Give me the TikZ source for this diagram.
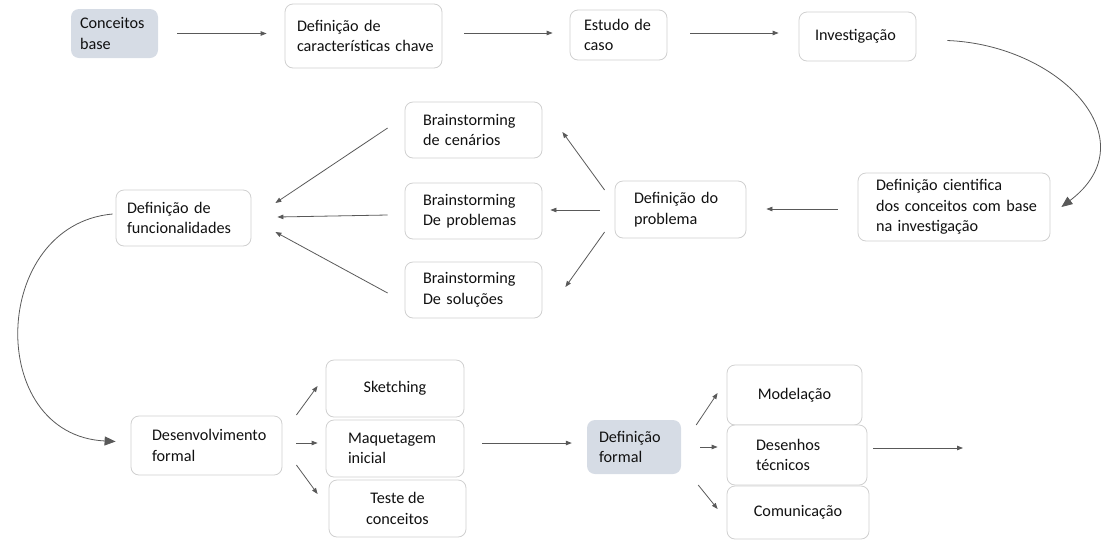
\documentclass[tikz,border=0pt]{standalone}
\usepackage{fontspec}
\setmainfont{Carlito}
\usetikzlibrary{arrows.meta,calc}
\definecolor{linec}{HTML}{595959}
\definecolor{borderc}{HTML}{D0D0D0}
\definecolor{fillc}{HTML}{D6DCE5}
\definecolor{textc}{HTML}{111111}
\newcommand{\ml}[1]{\mbox{#1}}
\begin{document}
\begin{tikzpicture}[x=1pt,y=-1pt,
  every node/.style={font=\fontsize{16.2}{20.5}\selectfont, text=textc},
  box/.style={draw=borderc, line width=0.8pt, fill=white, rounded corners=8pt, inner ysep=0pt, align=left},
  grey/.style={fill=fillc, draw=none, rounded corners=8pt, inner ysep=0pt, align=left},
  arr/.style={draw=linec, line width=0.8pt, -{Triangle[length=6pt,width=4.5pt]}},
  bigarr/.style={draw=linec, line width=0.8pt, -{Triangle[length=11pt,width=9pt]}}
]
\useasboundingbox (0,0) rectangle (1105,539);
% row 1
\node[grey, minimum width=87pt, minimum height=49pt, text width=69pt, inner xsep=9pt] (cb) at (114.5,33.5) {Conceitos\\base};
\node[box, minimum width=157pt, minimum height=64pt, text width=133pt, inner xsep=12pt] (dcc) at (363.5,36) {\ml{Definição de}\\\ml{características chave}};
\node[box, minimum width=97pt, minimum height=50pt, text width=69pt, inner xsep=14pt] (ec) at (618.5,35) {\ml{Estudo de}\\caso};
\node[box, minimum width=117pt, minimum height=49pt, text width=85pt, inner xsep=16pt] (inv) at (857.5,36.5) {\raisebox{3pt}{Investigação}};
% row 2
\node[box, minimum width=192pt, minimum height=68pt, text width=156pt, inner xsep=18pt] (dci) at (954,207) {\ml{Definição cientifica}\\\ml{dos conceitos com base}\\\ml{na investigação}};
\node[box, minimum width=131pt, minimum height=57pt, text width=93pt, inner xsep=19pt] (dp) at (680.5,209.5) {\ml{Definição do}\\problema};
\node[box, minimum width=137pt, minimum height=56pt, text width=101pt, inner xsep=18pt] (bc) at (473.5,130) {Brainstorming\\\ml{de cenários}};
\node[box, minimum width=137pt, minimum height=56pt, text width=101pt, inner xsep=18pt] (bp) at (473.5,211) {\raisebox{3pt}{\parbox{101pt}{Brainstorming\\\ml{De problemas}}}};
\node[box, minimum width=137pt, minimum height=56pt, text width=101pt, inner xsep=18pt] (bs) at (473.5,290) {\raisebox{2pt}{\parbox{101pt}{Brainstorming\\\ml{De soluções}}}};
\node[box, minimum width=135pt, minimum height=56pt, text width=113pt, inner xsep=11pt] (df) at (183.5,218) {\ml{Definição de}\\funcionalidades};
% row 3
\node[box, minimum width=151pt, minimum height=59pt, text width=109pt, inner xsep=21pt] (dev) at (206.5,445.5) {Desenvolvimento\\formal};
\node[box, minimum width=138pt, minimum height=57pt, align=center] (sk) at (395,388.5) {Sketching};
\node[box, minimum width=138pt, minimum height=57pt, text width=94pt, inner xsep=22pt] (mq) at (395,448.5) {\raisebox{2pt}{\parbox{94pt}{Maquetagem\\inicial}}};
\node[box, minimum width=137pt, minimum height=57pt, align=center] (tc) at (397.5,508.5) {\raisebox{2pt}{\parbox{80pt}{\centering \ml{Teste de}\\conceitos}}};
\node[grey, minimum width=94pt, minimum height=54pt, text width=70pt, inner xsep=12pt] (dfo) at (634,447) {Definição\\formal};
\node[box, minimum width=135pt, minimum height=60pt, align=center] (mo) at (794.5,395) {Modelação};
\node[box, minimum width=140pt, minimum height=60pt, text width=82pt, inner xsep=29pt] (dt) at (797,455) {\raisebox{2pt}{\parbox{82pt}{Desenhos\\técnicos}}};
\node[box, minimum width=142pt, minimum height=53pt, align=center] (co) at (798,512.5) {Comunicação};
\coordinate (fim) at (963,448);
% connectors row 1
\draw[arr, shorten <=19pt, shorten >=18pt] (cb.east) -- (cb.east -| dcc.west);
\draw[arr] ($(dcc.east)+(22,-3)$) -- ($(ec.west)+(-17,-2)$);
\draw[arr] ($(ec.east)+(23,-2)$) -- ($(inv.west)+(-20,-3.5)$);
\draw[bigarr] ($(inv.east)+(31,4)$) .. controls (1060,45) and (1150,140) .. ($(dci.east)+(11,0)$);
% row 2
\draw[arr] ($(dci.west)+(-20,2)$) -- ($(dp.east)+(20,-0.5)$);
\draw[arr] ($(dp.west)+(-10,-19.5)$) -- ($(bc.east)+(20,2)$);
\draw[arr] ($(dp.west)+(-15,0.5)$) -- ($(bp.east)+(8,-1)$);
\draw[arr] ($(dp.west)+(-10,22.5)$) -- ($(bs.east)+(23,-3)$);
\draw[arr] ($(bc.west)+(-17,-2)$) -- ($(df.east)+(24,-15)$);
\draw[arr] ($(bp.west)+(-17,4)$) -- ($(df.east)+(26,-1)$);
\draw[arr] ($(bs.west)+(-17,3)$) -- ($(df.east)+(24,14)$);
\draw[bigarr] ($(df.west)+(-3,-4)$) .. controls (-10,225) and (-15,435) .. ($(dev.west)+(-15,-4)$);
% row 3
\draw[arr] ($(dev.east)+(14,-30.5)$) -- ($(sk.west)+(-8,-2.5)$);
\draw[arr] ($(dev.east)+(14,-2.5)$) -- ($(mq.west)+(-8,-5.5)$);
\draw[arr] ($(dev.east)+(14,19.5)$) -- ($(tc.west)+(-11,-14.5)$);
\draw[arr] ($(mq.east)+(18,-5.5)$) -- ($(dfo.west)+(-15,-4)$);
\draw[arr] ($(dfo.east)+(15,-22)$) -- ($(mo.west)+(-9,-2)$);
\draw[arr] ($(dfo.east)+(19,0)$) -- ($(dt.west)+(-9,-8)$);
\draw[arr] ($(dfo.east)+(17,38)$) -- ($(co.west)+(-9,-3.5)$);
\draw[arr] ($(dt.east)+(6,-7)$) -- (fim);
\end{tikzpicture}
\end{document}
